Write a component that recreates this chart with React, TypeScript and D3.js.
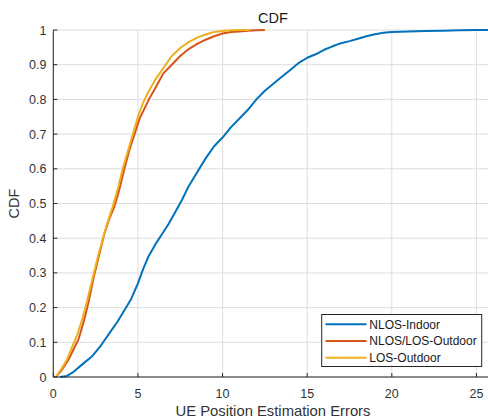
import React from "react";
import * as d3 from "d3";

const xTicks = [0, 5, 10, 15, 20, 25];
const yTicks = [0, 0.1, 0.2, 0.3, 0.4, 0.5, 0.6, 0.7, 0.8, 0.9, 1];
const yTickLabels = ["0", "0.1", "0.2", "0.3", "0.4", "0.5", "0.6", "0.7", "0.8", "0.9", "1"];

const seriesNames = ["NLOS-Indoor", "NLOS/LOS-Outdoor", "LOS-Outdoor"];
const seriesColors = ["#0072BD", "#D95319", "#EDB120"];

const nlosIndoor: [number, number][] = [
  [0.4, 0], [0.8, 0.003], [1.2, 0.015], [1.8, 0.04], [2.3, 0.06], [2.8, 0.09],
  [3.3, 0.125], [3.8, 0.16], [4.3, 0.2], [4.6, 0.225], [5.0, 0.27], [5.3, 0.31],
  [5.6, 0.345], [6.0, 0.38], [6.4, 0.41], [6.8, 0.44], [7.2, 0.475], [7.6, 0.51],
  [8.0, 0.55], [8.5, 0.59], [9.0, 0.63], [9.5, 0.665], [10.0, 0.69], [10.5, 0.72],
  [11.0, 0.745], [11.5, 0.77], [12.0, 0.8], [12.5, 0.825], [13.0, 0.845], [13.5, 0.865],
  [14.0, 0.885], [14.5, 0.905], [15.0, 0.92], [15.5, 0.93], [16.0, 0.943], [16.5, 0.953],
  [17.0, 0.962], [17.5, 0.968], [18.0, 0.975], [18.5, 0.982], [19.0, 0.988], [19.5, 0.992],
  [20, 0.994], [21, 0.996], [22, 0.997], [23, 0.998], [24, 0.999], [25, 1], [25.7, 1],
];

const nlosLosOutdoor: [number, number][] = [
  [0.15, 0], [0.5, 0.02], [0.9, 0.05], [1.2, 0.08], [1.5, 0.11], [1.8, 0.16],
  [2.1, 0.22], [2.4, 0.29], [2.7, 0.35], [3.0, 0.41], [3.3, 0.455], [3.6, 0.49],
  [3.9, 0.54], [4.2, 0.6], [4.5, 0.655], [4.8, 0.7], [5.1, 0.745], [5.4, 0.775],
  [5.7, 0.805], [6.0, 0.83], [6.5, 0.875], [7.0, 0.9], [7.5, 0.925], [8.0, 0.945],
  [8.5, 0.96], [9.0, 0.972], [9.5, 0.982], [10.0, 0.99], [10.5, 0.994], [11.0, 0.996],
  [11.5, 0.998], [12.0, 0.999], [12.5, 1],
];

const losOutdoor: [number, number][] = [
  [0.15, 0], [0.5, 0.025], [0.8, 0.05], [1.1, 0.085], [1.4, 0.12], [1.7, 0.165],
  [2.0, 0.22], [2.3, 0.28], [2.6, 0.34], [2.9, 0.395], [3.2, 0.445], [3.5, 0.49],
  [3.8, 0.54], [4.1, 0.6], [4.4, 0.65], [4.7, 0.7], [5.0, 0.75], [5.3, 0.79],
  [5.6, 0.82], [6.0, 0.855], [6.5, 0.89], [7.0, 0.925], [7.5, 0.948], [8.0, 0.965],
  [8.5, 0.978], [9.0, 0.987], [9.5, 0.994], [10.0, 0.997], [10.5, 0.999], [11.0, 1], [11.6, 1],
];

const seriesData = [nlosIndoor, nlosLosOutdoor, losOutdoor];

const W = 488;
const H = 419;
const font = "'Liberation Sans', Arial, Helvetica, sans-serif";

export default function App() {
  const x = d3.scaleLinear().domain([0, 25.7]).range([53.3, 488.3]);
  const y = d3.scaleLinear().domain([0, 1]).range([377, 30]);
  const line = d3
    .line<[number, number]>()
    .x((d) => x(d[0]))
    .y((d) => y(d[1]));

  const left = x(0);
  const right = x(25.7);
  const top = y(1);
  const bottom = y(0);

  return (
    <svg
      width={W}
      height={H}
      style={{ position: "absolute", left: 0, top: 0, background: "#fff" }}
      fontFamily={font}
    >
      <rect width={W} height={H} fill="#fff" />
      {/* grid */}
      {xTicks.map((t) => (
        <line key={"gx" + t} x1={x(t)} x2={x(t)} y1={top} y2={bottom} stroke="#dedede" strokeWidth={1} />
      ))}
      {yTicks.map((t) => (
        <line key={"gy" + t} x1={left} x2={right} y1={y(t)} y2={y(t)} stroke="#dedede" strokeWidth={1} />
      ))}
      {/* curves */}
      {seriesData.map((d, i) => (
        <path
          key={"s" + i}
          d={line(d) || ""}
          fill="none"
          stroke={seriesColors[i]}
          strokeWidth={2}
          strokeLinejoin="round"
        />
      ))}
      {/* axes */}
      <line x1={left} x2={left} y1={top} y2={bottom} stroke="#262626" strokeWidth={1} />
      <line x1={left} x2={right} y1={bottom} y2={bottom} stroke="#262626" strokeWidth={1} />
      {xTicks.map((t) => (
        <g key={"xt" + t}>
          <line x1={x(t)} x2={x(t)} y1={bottom} y2={bottom - 4} stroke="#262626" strokeWidth={1} />
          <text x={x(t)} y={398} textAnchor="middle" fontSize={12.5} fill="#333">
            {t}
          </text>
        </g>
      ))}
      {yTicks.map((t, i) => (
        <g key={"yt" + t}>
          <line x1={left} x2={left + 4} y1={y(t)} y2={y(t)} stroke="#262626" strokeWidth={1} />
          <text x={46.5} y={y(t) + 4.5} textAnchor="end" fontSize={12.5} fill="#333">
            {yTickLabels[i]}
          </text>
        </g>
      ))}
      {/* labels */}
      <text x={273} y={22.5} textAnchor="middle" fontSize={14.5} fill="#1a1a1a">
        CDF
      </text>
      <text x={273} y={416} textAnchor="middle" fontSize={14.8} fill="#333">
        UE Position Estimation Errors
      </text>
      <text
        transform={`translate(19,${(top + bottom) / 2}) rotate(-90)`}
        textAnchor="middle"
        fontSize={14.5}
        fill="#333"
      >
        CDF
      </text>
      {/* legend */}
      <rect x={321.7} y={314.5} width={160} height={52} fill="#fff" stroke="#262626" strokeWidth={1} />
      {seriesNames.map((n, i) => (
        <g key={"lg" + i}>
          <line
            x1={325.5}
            x2={366.5}
            y1={324.3 + i * 16.7}
            y2={324.3 + i * 16.7}
            stroke={seriesColors[i]}
            strokeWidth={2}
          />
          <text x={369.3} y={324.3 + i * 16.7 + 4.3} fontSize={12} fill="#1a1a1a">
            {n}
          </text>
        </g>
      ))}
    </svg>
  );
}
